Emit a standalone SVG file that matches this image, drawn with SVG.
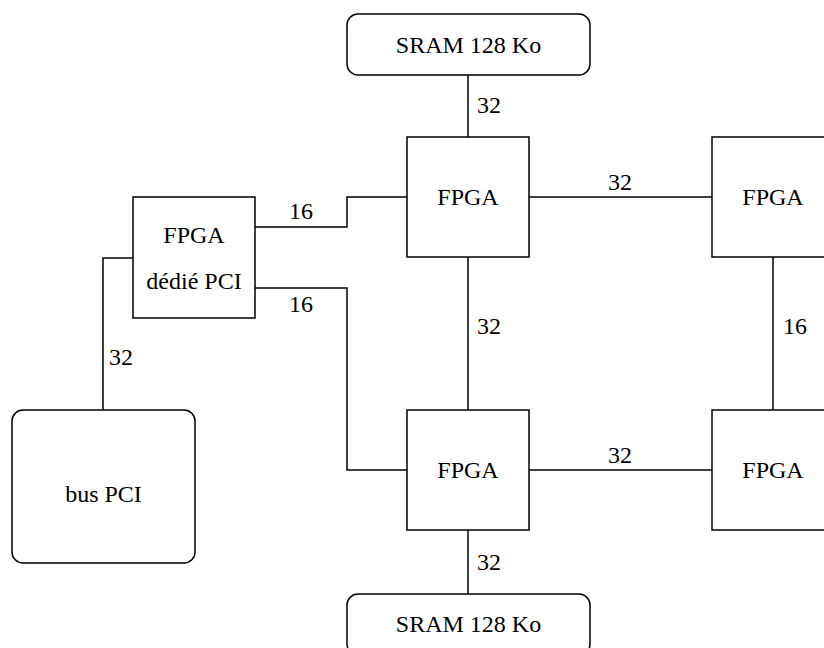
<svg xmlns="http://www.w3.org/2000/svg" width="824" height="648" viewBox="0 0 824 648">
<style>
.box{fill:#fff;stroke:#000;stroke-width:1.5}
.ln{fill:none;stroke:#000;stroke-width:1.5}
text{font-family:"Liberation Serif","Times New Roman",serif;font-size:24px;fill:#000}
.c{text-anchor:middle}
</style>
<rect width="824" height="648" fill="#fff"/>
<g id="connectors">
<path class="ln" d="M468,75V137"/>
<path class="ln" d="M468,257V410"/>
<path class="ln" d="M468,530V594"/>
<path class="ln" d="M529,197H712"/>
<path class="ln" d="M529,470H712"/>
<path class="ln" d="M773,257V410"/>
<path class="ln" d="M255,227H347V197H407"/>
<path class="ln" d="M255,288H347V470H407"/>
<path class="ln" d="M133,258H103V410"/>
<text x="477" y="113">32</text>
<text x="477" y="334">32</text>
<text x="477" y="570">32</text>
<text class="c" x="620" y="190">32</text>
<text class="c" x="620" y="463">32</text>
<text x="783" y="334">16</text>
<text class="c" x="301" y="219">16</text>
<text class="c" x="301" y="312">16</text>
<text x="109" y="365">32</text>
</g>
<g id="sram-top"><rect class="box" x="347" y="14" width="243" height="61" rx="11"/><text class="c" x="468.5" y="53">SRAM 128 Ko</text></g>
<g id="fpga-top"><rect class="box" x="407" y="137" width="122" height="120"/><text class="c" x="468" y="205">FPGA</text></g>
<g id="fpga-right-top"><rect class="box" x="712" y="137" width="122" height="120"/><text class="c" x="773" y="205">FPGA</text></g>
<g id="fpga-pci"><rect class="box" x="133" y="197" width="122" height="121"/><text class="c" x="194" y="243">FPGA</text><text class="c" x="194" y="289">dédié PCI</text></g>
<g id="bus-pci"><rect class="box" x="12" y="410" width="183" height="153" rx="11"/><text class="c" x="103.5" y="502">bus PCI</text></g>
<g id="fpga-bottom"><rect class="box" x="407" y="410" width="122" height="120"/><text class="c" x="468" y="478">FPGA</text></g>
<g id="fpga-right-bottom"><rect class="box" x="712" y="410" width="122" height="120"/><text class="c" x="773" y="478">FPGA</text></g>
<g id="sram-bottom"><rect class="box" x="347" y="594" width="243" height="61" rx="11"/><text class="c" x="468.5" y="632">SRAM 128 Ko</text></g>
</svg>
